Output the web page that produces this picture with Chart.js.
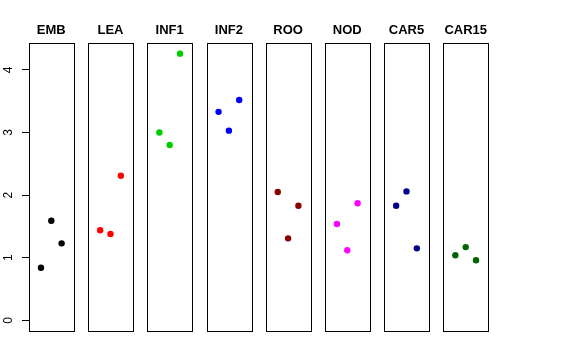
<!DOCTYPE html>
<html>
<head>
<meta charset="utf-8">
<script src="https://cdn.jsdelivr.net/npm/chart.js@4/dist/chart.umd.min.js"></script>
<style>
  body { margin: 0; background: #fff; }
  #wrap { position: relative; width: 576px; height: 360px; background: #fff; }
  #wrap canvas { position: absolute; left: 0; top: 0; }
</style>
</head>
<body>
<div id="wrap"></div>
<script>
// panel names and point colours
const panels = ['EMB', 'LEA', 'INF1', 'INF2', 'ROO', 'NOD', 'CAR5', 'CAR15'];
const colors = ['#000000', '#FF0000', '#00CD00', '#0000FF', '#8B0000', '#FF00FF', '#00008B', '#006400'];

// replicate index (x) and values (y) per panel
const xPos = [1, 2, 3];
const emb = [0.84, 1.59, 1.23];
const lea = [1.44, 1.38, 2.31];
const inf1 = [3.00, 2.80, 4.26];
const inf2 = [3.33, 3.03, 3.52];
const roo = [2.05, 1.31, 1.83];
const nod = [1.54, 1.12, 1.87];
const car5 = [1.83, 2.06, 1.15];
const car15 = [1.04, 1.17, 0.96];
const values = [emb, lea, inf1, inf2, roo, nod, car5, car15];

const yTicks = [0, 1, 2, 3, 4];

// panel layout (pixels)
const firstLeft = 29;
const panelStep = 59.2;
const panelWidth = 44.6;
const panelTop = 43;
const panelBottom = 331;
const W = 576, H = 360;

// box around each panel + bold title above it
const panelDeco = {
    id: 'panelDeco',
    afterDraw(chart, args, opts) {
        const { ctx, chartArea: a } = chart;
        ctx.save();
        ctx.strokeStyle = '#000';
        ctx.lineWidth = 1;
        ctx.strokeRect(Math.round(a.left) + 0.5, Math.round(a.top) + 0.5,
            Math.round(a.right - a.left), Math.round(a.bottom - a.top));
        ctx.fillStyle = '#000';
        ctx.font = 'bold 13px "Liberation Sans", Arial, sans-serif';
        ctx.textAlign = 'center';
        ctx.textBaseline = 'middle';
        ctx.fillText(opts.text, (a.left + a.right) / 2, 30);
        ctx.restore();
    }
};

// rotated y tick labels (R style)
const rotatedTicks = {
    id: 'rotatedTicks',
    afterDraw(chart, args, opts) {
        if (!opts.show) return;
        const { ctx, chartArea: a } = chart;
        const y = chart.scales.y;
        ctx.save();
        ctx.fillStyle = '#000';
        ctx.font = '12px "Liberation Sans", Arial, sans-serif';
        ctx.textAlign = 'center';
        ctx.textBaseline = 'middle';
        yTicks.forEach(v => {
            ctx.save();
            ctx.translate(a.left - 20, y.getPixelForValue(v));
            ctx.rotate(-Math.PI / 2);
            ctx.fillText(String(v), 0, 0);
            ctx.restore();
        });
        ctx.restore();
    }
};

const wrap = document.getElementById('wrap');

panels.forEach((name, i) => {
    const canvas = document.createElement('canvas');
    canvas.width = W;
    canvas.height = H;
    canvas.style.width = W + 'px';
    canvas.style.height = H + 'px';
    wrap.appendChild(canvas);

    const left = firstLeft + i * panelStep;
    const first = i === 0;

    const yScale = {
        type: 'linear',
        min: -0.17,
        max: 4.43,
        display: first
    };
    if (first) {
        Object.assign(yScale, {
            afterBuildTicks: (scale) => {
                scale.ticks = yTicks.map(v => ({ value: v }));
            },
            afterFit: (scale) => {
                scale.width = left;
            },
            border: { display: false },
            grid: {
                drawOnChartArea: false,
                drawTicks: true,
                tickLength: 7,
                color: '#000',
                lineWidth: 1
            },
            ticks: { display: false }
        });
    }

    new Chart(canvas.getContext('2d'), {
        type: 'scatter',
        data: {
            datasets: [{
                data: xPos.map((x, k) => ({ x: x, y: values[i][k] })),
                backgroundColor: colors[i],
                borderWidth: 0,
                pointRadius: 3.2,
                pointHoverRadius: 3.2
            }]
        },
        options: {
            responsive: false,
            animation: false,
            events: [],
            layout: {
                padding: {
                    left: first ? 0 : left,
                    right: W - left - panelWidth,
                    top: panelTop,
                    bottom: H - panelBottom
                }
            },
            plugins: {
                legend: { display: false },
                tooltip: { enabled: false },
                panelDeco: { text: name },
                rotatedTicks: { show: first }
            },
            scales: {
                x: {
                    type: 'linear',
                    min: -0.16,
                    max: 4.16,
                    display: false
                },
                y: yScale
            }
        },
        plugins: [panelDeco, rotatedTicks]
    });
});
</script>
</body>
</html>
